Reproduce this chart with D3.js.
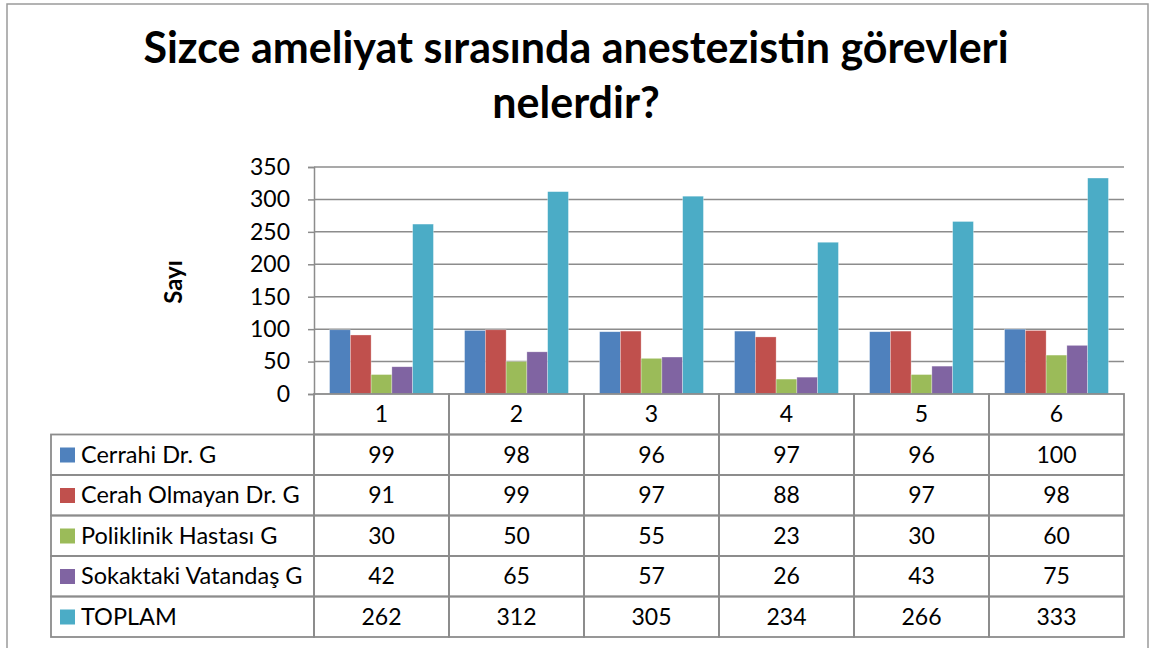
<!DOCTYPE html>
<html>
<head>
<meta charset="utf-8">
<script src="https://cdn.jsdelivr.net/npm/d3@7"></script>
<style>
  body { margin: 0; background: #fff; }
  svg { display: block; font-family: Lato, "Open Sans", sans-serif; }
</style>
</head>
<body>
<svg id="svg1" width="1151" height="648"></svg>
<script>
var categories = ['1', '2', '3', '4', '5', '6'];
var seriesNames = ['Cerrahi Dr. G', 'Cerah Olmayan Dr. G', 'Poliklinik Hastası G', 'Sokaktaki Vatandaş G', 'TOPLAM'];
var cerrahi = [99, 98, 96, 97, 96, 100];
var cerahOlmayan = [91, 99, 97, 88, 97, 98];
var poliklinik = [30, 50, 55, 23, 30, 60];
var sokaktaki = [42, 65, 57, 26, 43, 75];
var toplam = [262, 312, 305, 234, 266, 333];
var yTicks = [0, 50, 100, 150, 200, 250, 300, 350];
var colors = ['#4F81BD', '#C0504D', '#9BBB59', '#8064A2', '#4BACC6'];

var series = [cerrahi, cerahOlmayan, poliklinik, sokaktaki, toplam];

var svg = d3.select('#svg1');

var plotLeft = 314, plotRight = 1124, plotTop = 167, plotBottom = 394;
var tableLeft = 51, rowH = 40.5;

// outer chart border
svg.append('rect')
    .attr('x', 7).attr('y', 4).attr('width', 1141).attr('height', 660)
    .attr('fill', 'none').attr('stroke', '#9a9a9a').attr('stroke-width', 1.5);

// title
var title = svg.append('text')
    .attr('text-anchor', 'middle')
    .attr('font-weight', 'bold')
    .attr('font-size', 43)
    .attr('fill', '#000');
title.append('tspan').attr('x', 576).attr('y', 63).text('Sizce ameliyat sırasında anestezistin görevleri');
title.append('tspan').attr('x', 576).attr('y', 118).text('nelerdir?');

var scaleX = d3.scaleBand().domain(categories).range([plotLeft, plotRight]);
var scaleInner = d3.scaleBand().domain(d3.range(5)).range([0, scaleX.bandwidth()]).paddingOuter(0.75);
var scaleY = d3.scaleLinear().domain([0, 350]).range([plotBottom, plotTop]);

// gridlines
svg.append('g')
    .selectAll('line')
    .data(yTicks.filter(function(d){ return d > 0; }))
    .enter().append('line')
    .attr('x1', plotLeft).attr('x2', plotRight)
    .attr('y1', function(d){ return scaleY(d); })
    .attr('y2', function(d){ return scaleY(d); })
    .attr('stroke', '#8c8c8c').attr('stroke-width', 1.5);

// y axis
var yAxis = svg.append('g')
    .attr('transform', 'translate(' + plotLeft + ',0)')
    .call(d3.axisLeft(scaleY).tickValues(yTicks).tickSize(6).tickPadding(18));
yAxis.select('.domain').attr('stroke', '#8c8c8c').attr('stroke-width', 1.5);
yAxis.selectAll('.tick line').attr('stroke', '#8c8c8c').attr('stroke-width', 1.5);
yAxis.selectAll('.tick text').attr('font-size', 23).attr('fill', '#000')
    .attr('font-family', 'Lato, sans-serif');

// y label
svg.append('text')
    .attr('transform', 'translate(182,282) rotate(-90)')
    .attr('text-anchor', 'middle')
    .attr('font-weight', 'bold')
    .attr('font-size', 24)
    .text('Sayı');

// bars
var groups = svg.append('g')
    .selectAll('g')
    .data(categories)
    .enter().append('g')
    .attr('transform', function(d){ return 'translate(' + scaleX(d) + ',0)'; });

groups.selectAll('rect')
    .data(function(d, i){ return series.map(function(s, j){ return {s: j, v: s[i]}; }); })
    .enter().append('rect')
    .attr('x', function(d){ return scaleInner(d.s); })
    .attr('width', scaleInner.bandwidth())
    .attr('y', function(d){ return scaleY(d.v); })
    .attr('height', function(d){ return plotBottom - scaleY(d.v); })
    .attr('fill', function(d){ return colors[d.s]; })
    .attr('stroke', '#fff').attr('stroke-width', 0.6).attr('stroke-opacity', 0.5);

// data table
var tbl = svg.append('g');
var borderColor = '#8c8c8c';

// header row
categories.forEach(function(c){
    tbl.append('rect')
        .attr('x', scaleX(c)).attr('y', plotBottom)
        .attr('width', scaleX.bandwidth()).attr('height', rowH)
        .attr('fill', 'none').attr('stroke', borderColor).attr('stroke-width', 1.8);
    tbl.append('text')
        .attr('x', scaleX(c) + scaleX.bandwidth() / 2)
        .attr('y', plotBottom + rowH / 2 + 8)
        .attr('text-anchor', 'middle').attr('font-size', 23)
        .text(c);
});

seriesNames.forEach(function(name, j){
    var y0 = plotBottom + rowH * (j + 1);
    tbl.append('rect')
        .attr('x', tableLeft).attr('y', y0)
        .attr('width', plotLeft - tableLeft).attr('height', rowH)
        .attr('fill', 'none').attr('stroke', borderColor).attr('stroke-width', 1.8);
    tbl.append('rect')
        .attr('x', 60).attr('y', y0 + 13)
        .attr('width', 15).attr('height', 15)
        .attr('fill', colors[j]);
    tbl.append('text')
        .attr('x', 81).attr('y', y0 + rowH / 2 + 8)
        .attr('font-size', 23.5)
        .text(name);
    categories.forEach(function(c, i){
        tbl.append('rect')
            .attr('x', scaleX(c)).attr('y', y0)
            .attr('width', scaleX.bandwidth()).attr('height', rowH)
            .attr('fill', 'none').attr('stroke', borderColor).attr('stroke-width', 1.8);
        tbl.append('text')
            .attr('x', scaleX(c) + scaleX.bandwidth() / 2)
            .attr('y', y0 + rowH / 2 + 8)
            .attr('text-anchor', 'middle').attr('font-size', 23)
            .text(series[j][i]);
    });
});
</script>
</body>
</html>
